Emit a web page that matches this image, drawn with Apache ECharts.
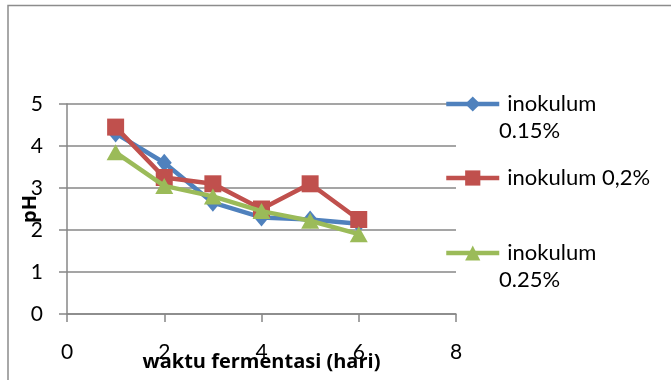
<!DOCTYPE html>
<html>
<head>
<meta charset="utf-8">
<script src="https://cdn.jsdelivr.net/npm/echarts@6/dist/echarts.min.js"></script>
<style>
  html, body { margin: 0; padding: 0; background: #ffffff; }
  #chart { width: 671px; height: 380px; }
</style>
</head>
<body>
<div id="chart"></div>
<script>
// Fermentation time (days) and measured pH per inoculum level
const days = [1, 2, 3, 4, 5, 6];
const ph015 = [4.3, 3.6, 2.65, 2.3, 2.25, 2.15];
const ph02 = [4.45, 3.25, 3.1, 2.5, 3.1, 2.25];
const ph025 = [3.85, 3.05, 2.8, 2.45, 2.22, 1.9];

const seriesNames = ['inokulum 0.15%', 'inokulum 0,2%', 'inokulum 0.25%'];
// first line of each legend entry, then the wrapped remainder (if any)
const legendFirstLines = ['inokulum', 'inokulum 0,2%', 'inokulum'];
const legendSecondLines = ['0.15%', '', '0.25%'];

const xAxisTitle = 'waktu fermentasi (hari)';
const yAxisTitle = 'pH';

const FONT = 'Lato, "Noto Sans", sans-serif';
const TITLE_FONT = '"Open Sans", Lato, sans-serif';
const GRID_GRAY = '#878787';
const LEGEND_TOPS = [90, 164, 239];
const LEGEND_LEFT = 444;

function pairs(ys) {
  return days.map((d, i) => [d, ys[i]]);
}

function legendAt(idx) {
  return {
    data: [seriesNames[idx]],
    left: LEGEND_LEFT,
    top: LEGEND_TOPS[idx],
    padding: 0,
    itemWidth: 53,
    itemHeight: 19,
    selectedMode: false,
    formatter: () => legendFirstLines[idx],
    lineStyle: { width: 4.5 },
    textStyle: {
      fontFamily: FONT,
      fontSize: 22,
      color: '#000000',
      lineHeight: 28,
      padding: [0, 0, 0, 3]
    }
  };
}

// wrapped second lines of the long legend entries
const legendWrapText = legendSecondLines
  .map((t, i) => ({ t, i }))
  .filter(o => o.t)
  .map(o => ({
    type: 'text',
    silent: true,
    left: 499,
    top: LEGEND_TOPS[o.i] + 30,
    style: { text: o.t, fontFamily: FONT, fontSize: 22, fill: '#000000' }
  }));

const chart = echarts.init(document.getElementById('chart'), null, { renderer: 'canvas' });

chart.setOption({
  animation: false,
  backgroundColor: '#ffffff',
  grid: { left: 67, right: 215, top: 104, bottom: 66, containLabel: false, outerBoundsMode: 'none' },
  graphic: [
    {
      type: 'polyline',
      silent: true,
      shape: { points: [[8, 380], [8, 5.5], [671, 5.5]] },
      style: { stroke: '#8c8c8c', lineWidth: 1.5, fill: null }
    }
  ].concat(legendWrapText),
  legend: [legendAt(0), legendAt(1), legendAt(2)],
  xAxis: {
    type: 'value',
    min: 0,
    max: 8,
    interval: 2,
    name: xAxisTitle,
    nameLocation: 'middle',
    nameGap: 38,
    nameMoveOverlap: false,
    nameTextStyle: { fontFamily: TITLE_FONT, fontSize: 20, fontWeight: 'bold', color: '#000000' },
    axisLine: { show: true, onZero: false, lineStyle: { color: GRID_GRAY, width: 1.5 } },
    axisTick: { show: true, length: 8, lineStyle: { color: GRID_GRAY, width: 1.5 } },
    axisLabel: { fontFamily: FONT, fontSize: 21, color: '#000000', margin: 28 },
    splitLine: { show: false }
  },
  yAxis: {
    type: 'value',
    min: 0,
    max: 5,
    interval: 1,
    name: yAxisTitle,
    nameLocation: 'middle',
    nameGap: 27,
    nameMoveOverlap: false,
    nameTextStyle: { fontFamily: TITLE_FONT, fontSize: 20, fontWeight: 'bold', color: '#000000' },
    axisLine: { show: true, lineStyle: { color: GRID_GRAY, width: 1.5 } },
    axisTick: { show: true, length: 8, lineStyle: { color: GRID_GRAY, width: 1.5 } },
    axisLabel: { fontFamily: FONT, fontSize: 21, color: '#000000', margin: 24 },
    splitLine: { show: true, lineStyle: { color: GRID_GRAY, width: 1.5 } }
  },
  series: [
    {
      name: seriesNames[0],
      type: 'line',
      data: pairs(ph015),
      symbol: 'diamond',
      symbolSize: [15, 18],
      color: '#4F81BD',
      lineStyle: { width: 4.5, color: '#4F81BD' },
      itemStyle: { color: '#4F81BD' },
      z: 2
    },
    {
      name: seriesNames[1],
      type: 'line',
      data: pairs(ph02),
      symbol: 'rect',
      symbolSize: 17,
      color: '#C0504D',
      lineStyle: { width: 4.5, color: '#C0504D' },
      itemStyle: { color: '#C0504D' },
      z: 3
    },
    {
      name: seriesNames[2],
      type: 'line',
      data: pairs(ph025),
      symbol: 'triangle',
      symbolSize: [18, 16],
      color: '#9BBB59',
      lineStyle: { width: 4.5, color: '#9BBB59' },
      itemStyle: { color: '#9BBB59' },
      z: 4
    }
  ]
});
</script>
</body>
</html>
